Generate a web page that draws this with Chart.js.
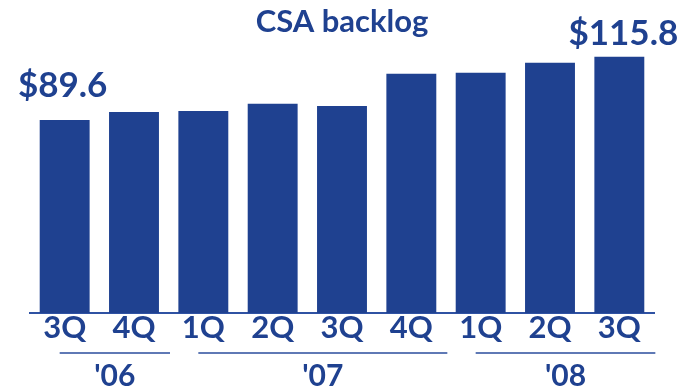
<!DOCTYPE html>
<html>
<head>
<meta charset="utf-8">
<script src="https://cdn.jsdelivr.net/npm/chart.js@4.4.0/dist/chart.umd.min.js"></script>
<style>
    html, body { margin: 0; padding: 0; background: #fff; }
    #wrap { width: 686px; height: 390px; }
</style>
</head>
<body>
<div id="wrap"><canvas id="backlogChart"></canvas></div>
<script>
// 四半期ラベル
const quarters = ['3Q', '4Q', '1Q', '2Q', '3Q', '4Q', '1Q', '2Q', '3Q'];
// CSA backlog ($B)
const backlog = [89.6, 92.9, 93.3, 96.3, 95.4, 108.8, 109.2, 113.3, 115.8];
// 値ラベル (最初と最後だけ)
const valueLabels = ['$89.6', '', '', '', '', '', '', '', '$115.8'];
// 年のグループ
const years = ["'06", "'07", "'08"];
const yearStart = [0, 2, 6];
const yearEnd = [1, 5, 8];

const blue = '#1f4190';
const fontName = 'Lato';

// 値ラベルと年の下線を描くプラグイン
const extraLabels = {
    id: 'extraLabels',
    afterDraw(chart) {
        const ctx = chart.ctx;
        const xScale = chart.scales.x;
        const meta = chart.getDatasetMeta(0);
        const shiftX = [-2, 0, 0, 0, 0, 0, 0, 0, 4];
        const liftY = [23, 0, 0, 0, 0, 0, 0, 0, 12];
        ctx.save();
        ctx.fillStyle = blue;
        ctx.textAlign = 'center';
        ctx.textBaseline = 'alphabetic';
        ctx.font = 'bold 35px ' + fontName;
        meta.data.forEach((bar, i) => {
            if (!valueLabels[i]) return;
            ctx.fillText(valueLabels[i], bar.x + shiftX[i], bar.y - liftY[i]);
        });

        // 年の下線とラベル
        ctx.strokeStyle = '#2a4c9c';
        ctx.lineWidth = 1.5;
        ctx.font = 'bold 30px ' + fontName;
        years.forEach((yr, i) => {
            const x0 = xScale.getPixelForValue(yearStart[i]) - 5;
            const x1 = xScale.getPixelForValue(yearEnd[i]) + 36;
            ctx.beginPath();
            ctx.moveTo(x0, 353);
            ctx.lineTo(x1, 353);
            ctx.stroke();
            ctx.fillText(yr, (x0 + x1) / 2, 386);
        });
        ctx.restore();
    }
};

const ctx = document.getElementById('backlogChart').getContext('2d');
const backlogChart = new Chart(ctx, {
    type: 'bar',
    data: {
        labels: quarters,
        datasets: [{
            label: 'CSA backlog',
            data: backlog,
            backgroundColor: blue,
            borderWidth: 0,
            barPercentage: 0.72,
            categoryPercentage: 1
        }]
    },
    options: {
        responsive: true,
        maintainAspectRatio: false,
        animation: false,
        layout: {
            padding: { left: 30, right: 32, top: 0, bottom: 40 }
        },
        plugins: {
            legend: { display: false },
            tooltip: { enabled: false },
            title: {
                display: true,
                text: 'CSA backlog',
                color: blue,
                font: { family: fontName, size: 31, weight: 'bold' },
                padding: { top: 3, bottom: 4 }
            }
        },
        scales: {
            x: {
                grid: { display: false },
                border: { display: true, color: '#2f52a3', width: 2 },
                ticks: {
                    color: blue,
                    padding: -12,
                    font: { family: fontName, size: 31, weight: 'bold' }
                },
                afterFit: function (scale) {
                    scale.height = 37; // ラベルが切れないように高さを固定
                }
            },
            y: {
                display: false,
                min: 9.7,
                max: 121
            }
        }
    },
    plugins: [extraLabels]
});
</script>
</body>
</html>
